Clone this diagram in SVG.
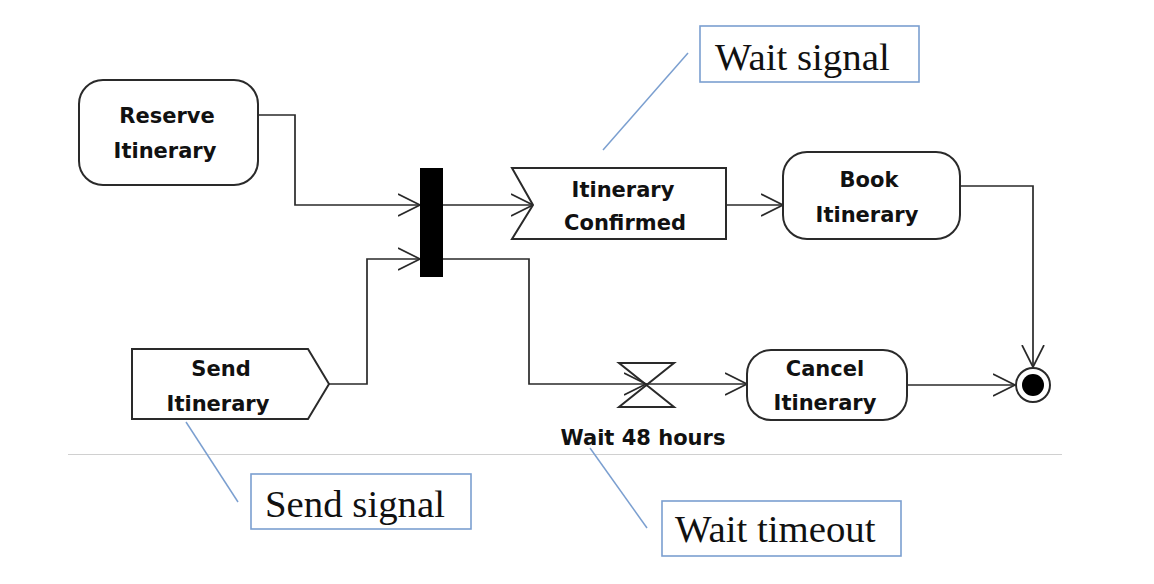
<svg xmlns="http://www.w3.org/2000/svg" width="1154" height="584" viewBox="0 0 1154 584">
<defs>
<style>
.shape{fill:#fff;stroke:#2a2a2a;stroke-width:2}
.lbl{font-family:"DejaVu Sans",Verdana,sans-serif;font-weight:bold;font-size:21px;fill:#111;text-anchor:middle}
.conn{fill:none;stroke:#2a2a2a;stroke-width:1.7}
.note{fill:#fff;stroke:#7b9fd0;stroke-width:1.6}
.noteline{stroke:#7b9fd0;stroke-width:1.5;fill:none}
.notetxt{font-family:"Liberation Serif","Times New Roman",serif;font-size:38.8px;fill:#111}
</style>
<marker id="arr" viewBox="0 0 24 24" refX="22" refY="12" markerWidth="24" markerHeight="24" markerUnits="userSpaceOnUse" orient="auto">
<path d="M0,1 L22,12 L0,23" fill="none" stroke="#2a2a2a" stroke-width="1.7"/>
</marker>
</defs>
<rect width="1154" height="584" fill="#fff"/>
<line x1="68" y1="454.5" x2="1062" y2="454.5" stroke="#d0d0d0" stroke-width="1"/>

<g id="connectors">
<path class="conn" d="M258,115 H295 V205 H420" marker-end="url(#arr)"/>
<path class="conn" d="M329,384 H367 V259 H420" marker-end="url(#arr)"/>
<path class="conn" d="M443,205 H533" marker-end="url(#arr)"/>
<path class="conn" d="M443,259 H529 V384 H646" marker-end="url(#arr)"/>
<path class="conn" d="M646,384 H747" marker-end="url(#arr)"/>
<path class="conn" d="M726,205 H783" marker-end="url(#arr)"/>
<path class="conn" d="M960,186 H1033 V367" marker-end="url(#arr)"/>
<path class="conn" d="M907,385 H1015" marker-end="url(#arr)"/>
</g>

<g id="reserve">
<rect class="shape" x="79" y="80" width="179" height="105" rx="24"/>
<text class="lbl" x="167" y="123">Reserve</text>
<text class="lbl" x="165" y="158">Itinerary</text>
</g>

<g id="send">
<path class="shape" d="M132,349 H308 L329,384 L308,419 H132 Z"/>
<text class="lbl" x="221" y="376">Send</text>
<text class="lbl" x="218" y="411">Itinerary</text>
</g>

<g id="fork">
<rect x="420" y="168" width="23" height="109" fill="#000"/>
</g>

<g id="confirmed">
<path class="shape" d="M512,168 H726 V239 H512 L533,205 Z"/>
<text class="lbl" x="623" y="197">Itinerary</text>
<text class="lbl" x="625" y="230">Confirmed</text>
</g>

<g id="book">
<rect class="shape" x="783" y="152" width="177" height="87" rx="24"/>
<text class="lbl" x="869" y="187">Book</text>
<text class="lbl" x="867" y="222">Itinerary</text>
</g>

<g id="timer">
<path class="shape" d="M619,363 H674 L619,407 H674 Z" style="fill:none"/>
<text class="lbl" x="643" y="445">Wait 48 hours</text>
</g>

<g id="cancel">
<rect class="shape" x="747" y="350" width="160" height="70" rx="24"/>
<text class="lbl" x="825" y="376">Cancel</text>
<text class="lbl" x="825" y="410">Itinerary</text>
</g>

<g id="final">
<circle cx="1033" cy="385" r="17" fill="#fff" stroke="#2a2a2a" stroke-width="2"/>
<circle cx="1033" cy="385" r="11" fill="#000"/>
</g>

<g id="note-wait-signal">
<line class="noteline" x1="688" y1="53" x2="603" y2="150"/>
<rect class="note" x="700" y="26" width="219" height="56"/>
<text class="notetxt" x="715" y="70">Wait signal</text>
</g>

<g id="note-send-signal">
<line class="noteline" x1="186" y1="422" x2="238" y2="502"/>
<rect class="note" x="251" y="474" width="220" height="55"/>
<text class="notetxt" x="265" y="517">Send signal</text>
</g>

<g id="note-wait-timeout">
<line class="noteline" x1="590" y1="448" x2="647" y2="528"/>
<rect class="note" x="662" y="501" width="239" height="55"/>
<text class="notetxt" x="675" y="542">Wait timeout</text>
</g>
</svg>
